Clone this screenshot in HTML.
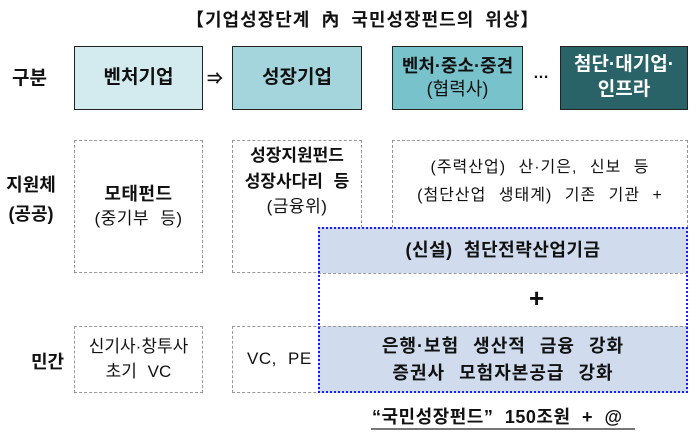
<!DOCTYPE html>
<html><head><meta charset="utf-8"><style>
body{margin:0;width:700px;height:447px;background:#fff;position:relative;overflow:hidden;font-family:"Liberation Sans","Noto Sans CJK KR",sans-serif;color:#111}
.a{position:absolute;box-sizing:border-box;display:flex;flex-direction:column;align-items:center;justify-content:center;text-align:center;line-height:1.45;white-space:nowrap}
.t{position:absolute;white-space:nowrap}
.b{font-weight:bold}
.sol{border:1.5px solid #222}
.dot{border:1px dashed #999}
.w{letter-spacing:0.5px;word-spacing:6px}
</style></head><body>
<div class="t b" style="left:186px;top:6px;font-size:18px;letter-spacing:1px;word-spacing:5px">【기업성장단계 內 국민성장펀드의 위상】</div>

<div class="t b" style="left:12px;top:63px;font-size:19px;">구분</div>
<div class="a sol b" style="left:74px;top:46px;width:129px;height:64px;background:#d3ebee;font-size:19px;">벤처기업</div>
<div class="t b" style="left:207px;top:65px;font-size:16px;">⇒</div>
<div class="a sol b" style="left:232px;top:46px;width:130px;height:64px;background:#a4d5dc;font-size:19px;">성장기업</div>
<div class="a sol" style="left:392px;top:46px;width:131px;height:64px;background:#78c2cb;font-size:18px;line-height:1.3"><span class="b">벤처·중소·중견</span><span>(협력사)</span></div>
<div class="t b" style="left:533px;top:65px;font-size:16px;">…</div>
<div class="a sol b" style="left:560px;top:46px;width:128px;height:64px;background:#296267;color:#fff;font-size:19px;line-height:1.3">첨단·대기업·<br>인프라</div>

<div class="a b" style="left:0;top:168px;width:62px;height:64px;font-size:18px;line-height:1.6">지원체<br>(공공)</div>
<div class="a dot w" style="left:74px;top:140px;width:129px;height:133px;font-size:17px;"><span class="b" style="font-size:18px">모태펀드</span><span>(중기부 등)</span></div>
<div class="a dot w" style="left:232px;top:140px;width:130px;height:133px;font-size:17px;justify-content:flex-start;padding-top:2px;line-height:1.5"><span class="b" style="letter-spacing:0">성장지원펀드</span><span class="b" style="letter-spacing:0">성장사다리 등</span><span>(금융위)</span></div>
<div class="a dot w" style="left:392px;top:140px;width:296px;height:88px;font-size:16px;line-height:1.75;padding-bottom:4px;letter-spacing:1px;word-spacing:7px">(주력산업) 산·기은, 신보 등<br>(첨단산업 생태계) 기존 기관 +</div>

<div class="t b" style="left:31px;top:348px;font-size:18px;">민간</div>
<div class="a dot w" style="left:74px;top:326px;width:129px;height:67px;font-size:17px;letter-spacing:0">신기사·창투사<br>초기 VC</div>
<div class="a dot w" style="left:232px;top:326px;width:130px;height:67px;font-size:17px;align-items:flex-start;padding-left:14px">VC, PE</div>

<div class="a b w" style="left:318px;top:227px;width:370px;height:46px;background:#d0dcee;font-size:18px;">(신설) 첨단전략산업기금</div>
<div style="position:absolute;left:318px;top:273px;width:370px;border-top:1px dashed #999"></div>
<div class="t b" style="left:529px;top:283px;font-size:26px;">+</div>
<div class="a b w" style="left:318px;top:326px;width:370px;height:67px;background:#d0dcee;border-top:1px dashed #999;font-size:18px;line-height:1.5;letter-spacing:1px;word-spacing:8px">은행·보험 생산적 금융 강화<br>증권사 모험자본공급 강화</div>
<div style="position:absolute;left:318px;top:227px;width:370px;height:166px;box-sizing:border-box;border:2.5px dotted #1a1aff"></div>

<div class="t b" style="left:372px;top:403px;font-size:18px;letter-spacing:0.5px;word-spacing:6px">“국민성장펀드” 150조원 + @</div>
<div style="position:absolute;left:371px;top:428px;width:264px;height:1.5px;background:#777"></div>
</body></html>
